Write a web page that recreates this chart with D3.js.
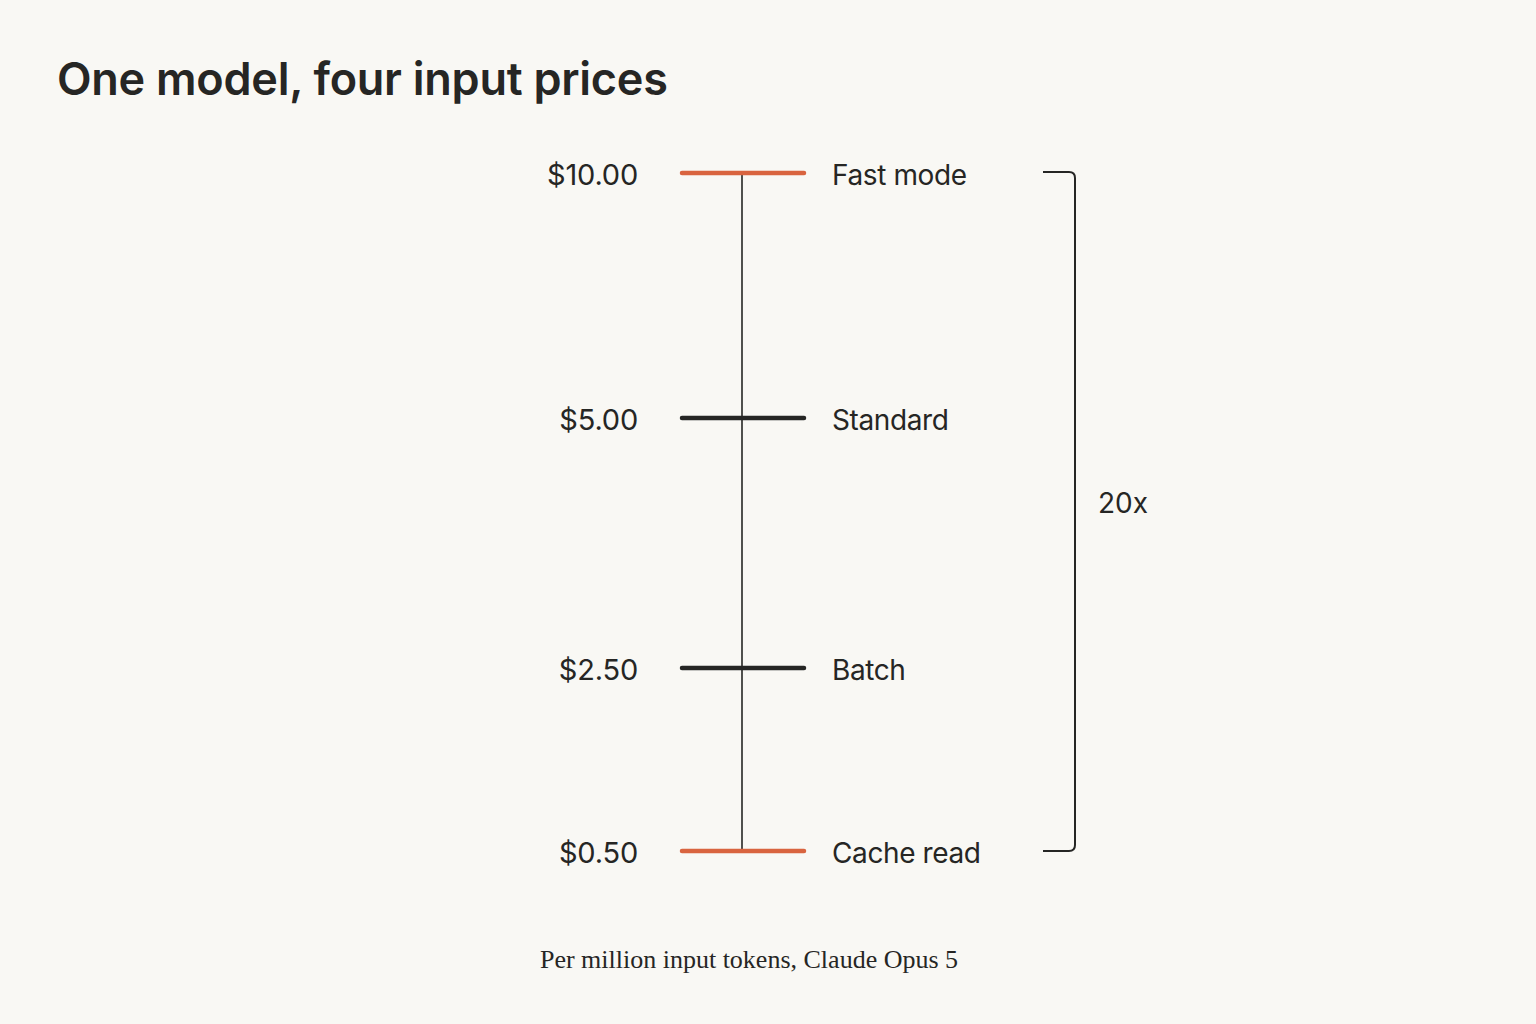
<!DOCTYPE html>
<html><head><meta charset="utf-8">
<script src="https://cdn.jsdelivr.net/npm/d3@7"></script>
<style>
html,body{margin:0;padding:0;background:#f9f8f4;}
svg{display:block;}
</style></head>
<body>
<svg id="chart" width="1536" height="1024"></svg>
<script>
const tiers = ["Fast mode", "Standard", "Batch", "Cache read"];
const prices = [10.00, 5.00, 2.50, 0.50];
const priceLabels = ["$10.00", "$5.00", "$2.50", "$0.50"];
const highlight = [true, false, false, true];
const ratioLabel = "20x";
const title = "One model, four input prices";
const footnote = "Per million input tokens, Claude Opus 5";

const W = 1536, H = 1024;
const svg = d3.select("#chart");
svg.append("rect").attr("width", W).attr("height", H).attr("fill", "#f9f8f4");

const sans = "Inter, 'Open Sans', 'Noto Sans', sans-serif";
const orange = "#d9643f", ink = "#262624";

// Scale: piecewise positions along the vertical rule
const y = d3.scaleLinear()
  .domain([0.5, 2.5, 5, 10])
  .range([851, 668, 418, 173]);

const cx = 742, tickL = 682, tickR = 804;

svg.append("text").attr("x", 57).attr("y", 95)
  .attr("font-family", sans).attr("font-size", 45).attr("font-weight", 600)
  .attr("letter-spacing", -0.25)
  .attr("fill", ink).text(title);

// Vertical rule
svg.append("line")
  .attr("x1", cx).attr("x2", cx)
  .attr("y1", y(d3.max(prices))).attr("y2", y(d3.min(prices)))
  .attr("stroke", ink).attr("stroke-width", 1.6);

const rows = svg.append("g").selectAll("g")
  .data(prices.map((p, i) => ({p, tier: tiers[i], lab: priceLabels[i], hi: highlight[i]})))
  .join("g");

rows.append("line")
  .attr("x1", tickL).attr("x2", tickR)
  .attr("y1", d => y(d.p)).attr("y2", d => y(d.p))
  .attr("stroke", d => d.hi ? orange : ink)
  .attr("stroke-width", 4.5).attr("stroke-linecap", "round");

rows.append("text")
  .attr("x", 638).attr("y", d => y(d.p) + 4)
  .attr("text-anchor", "end").attr("dominant-baseline", "middle")
  .attr("font-family", sans).attr("font-size", 29)
  .attr("letter-spacing", -0.2)
  .attr("fill", ink).text(d => d.lab);

rows.append("text")
  .attr("x", 832).attr("y", d => y(d.p) + 4)
  .attr("dominant-baseline", "middle")
  .attr("font-family", sans).attr("font-size", 28)
  .attr("letter-spacing", -0.4)
  .attr("fill", ink).text(d => d.tier);

// Bracket
const bx = 1075, bx0 = 1043, r = 6;
const yt = y(d3.max(prices)) - 1, yb = y(d3.min(prices));
svg.append("path")
  .attr("d", `M${bx0},${yt} H${bx - r} Q${bx},${yt} ${bx},${yt + r} V${yb - r} Q${bx},${yb} ${bx - r},${yb} H${bx0}`)
  .attr("fill", "none").attr("stroke", ink).attr("stroke-width", 2);

svg.append("text")
  .attr("x", 1098).attr("y", (yt + yb) / 2 - 6)
  .attr("dominant-baseline", "middle")
  .attr("font-family", sans).attr("font-size", 28)
  .attr("fill", ink).text(ratioLabel);

svg.append("text")
  .attr("x", 749).attr("y", 968)
  .attr("text-anchor", "middle")
  .attr("font-family", "'Liberation Serif', 'DejaVu Serif', serif")
  .attr("font-size", 26)
  .attr("fill", ink).text(footnote);
</script>
</body></html>
